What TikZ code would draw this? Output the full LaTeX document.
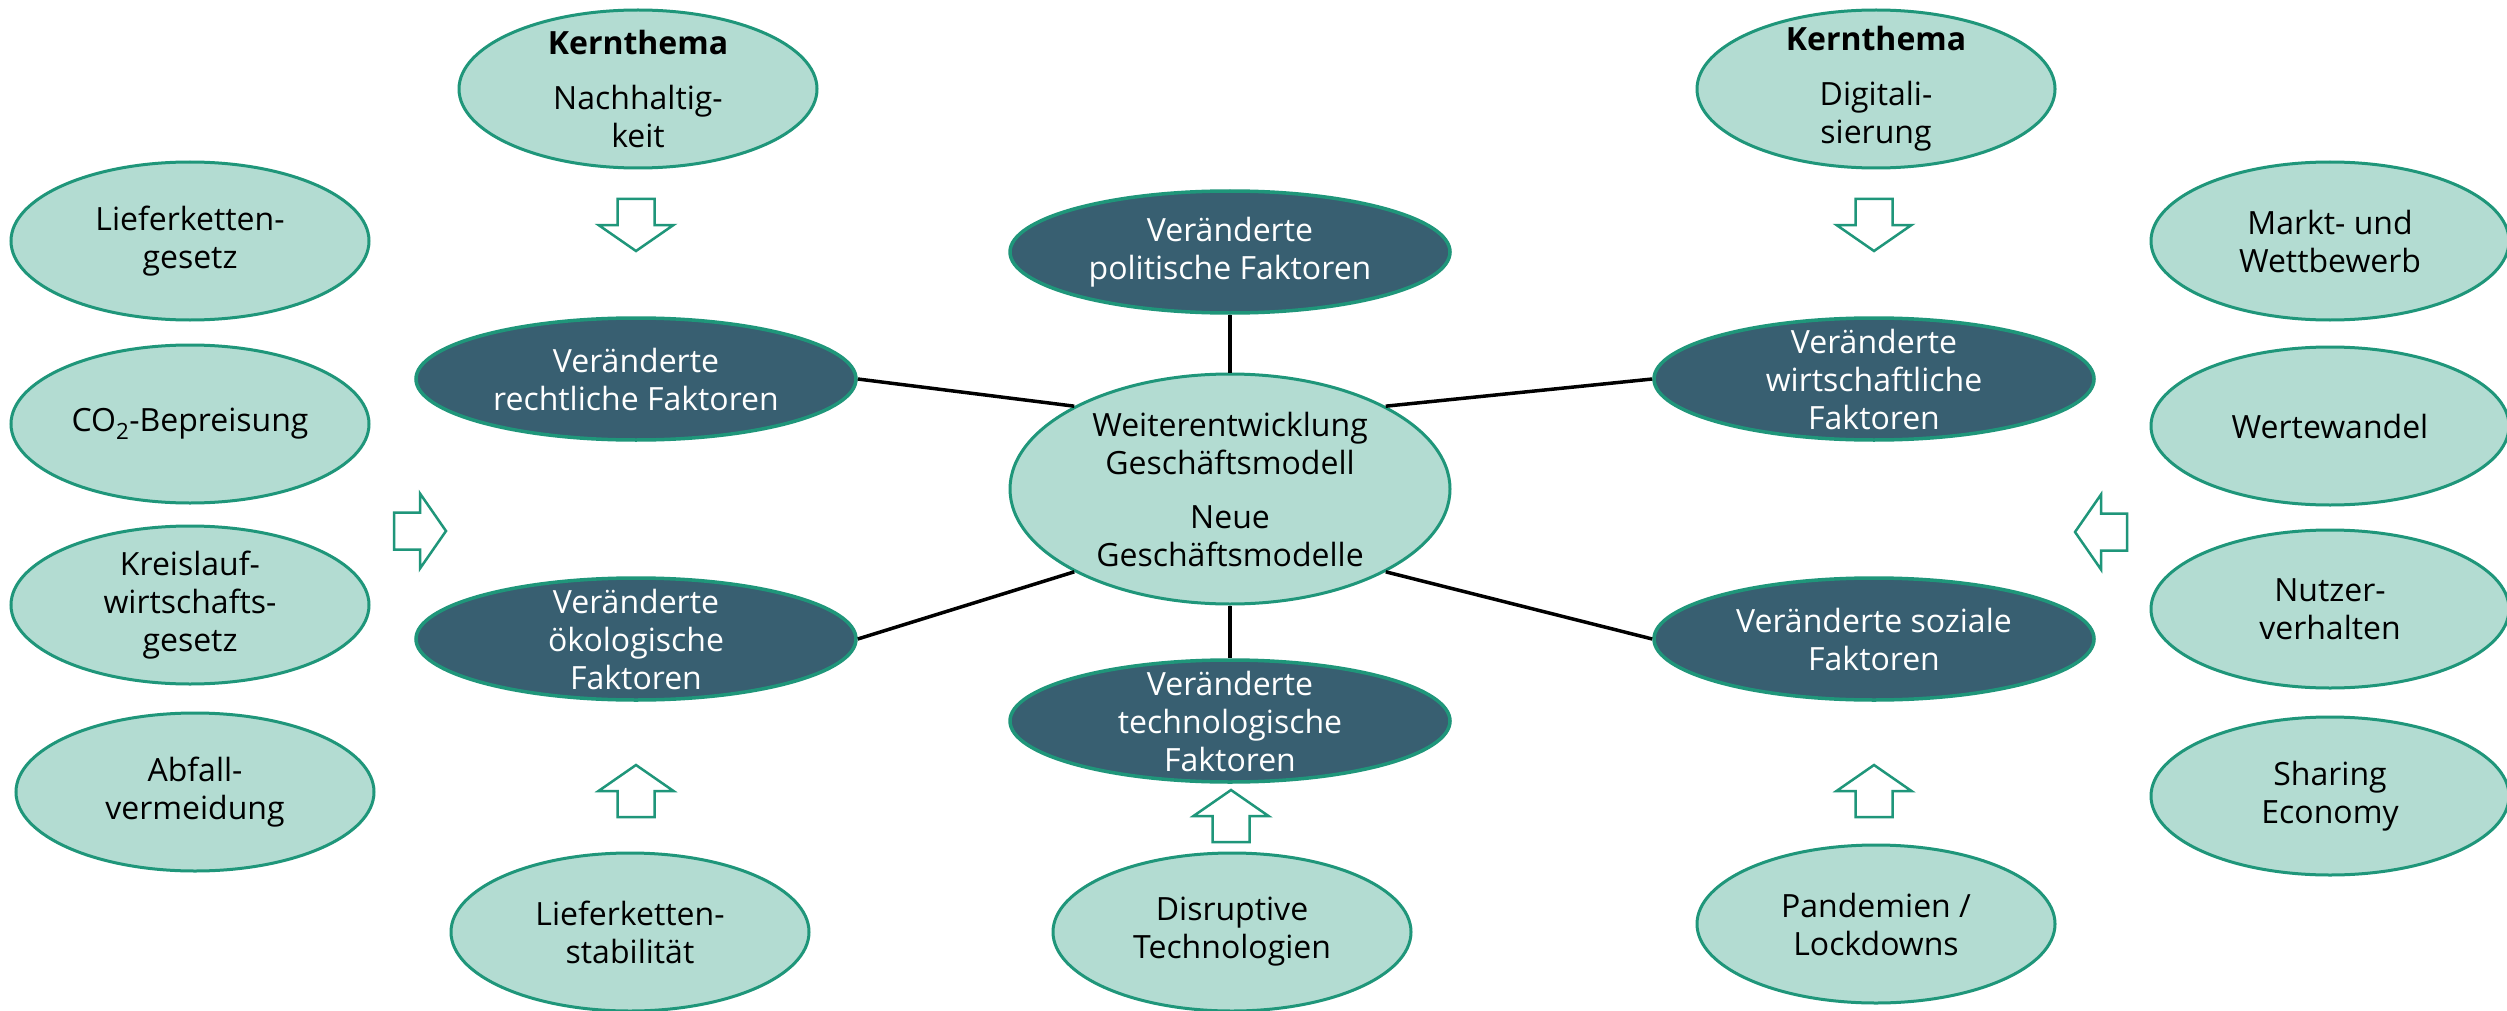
\documentclass[tikz,border=0pt]{standalone}
\usepackage{fontspec}
\setmainfont{Open Sans}
\usetikzlibrary{shapes.geometric}
\definecolor{mint}{HTML}{B3DCD2}
\definecolor{edgegreen}{HTML}{1F967A}
\definecolor{slate}{HTML}{385F71}
\tikzset{
  lightell/.style={ellipse, draw=edgegreen, fill=mint, line width=3pt, inner sep=0pt,
    minimum width=358pt, minimum height=158pt},
  darkell/.style={ellipse, draw=edgegreen, fill=slate, line width=3.5pt, inner sep=0pt,
    minimum width=440pt, minimum height=122pt},
  centerell/.style={ellipse, draw=edgegreen, fill=mint, line width=3pt, inner sep=0pt,
    minimum width=440pt, minimum height=230pt},
  darktext/.style={text=white, align=center, font=\fontsize{32}{38}\selectfont, inner sep=0pt},
  lighttext/.style={text=black, align=center, font=\fontsize{32}{38}\selectfont, inner sep=0pt},
  conn/.style={draw=black, line width=3.5pt},
  arrowline/.style={draw=edgegreen, fill=white, line width=2.5pt, line join=miter},
  blockarr/.pic={\path[arrowline] (-26,-18.5) -- (0,-18.5) -- (0,-37.5) -- (26,0) -- (0,37.5) -- (0,18.5) -- (-26,18.5) -- cycle;}
}
\begin{document}
\begin{tikzpicture}[x=1pt,y=-1pt]
\fill[white] (0,0) rectangle (2507,1011);
\useasboundingbox (0,0) rectangle (2507,1011);

% Kernthemen
\node[lightell, label={[lighttext]center:{\textbf{Kernthema}\\[17pt]Nachhaltig-\\keit}}] (kn) at (638,89) {};
\node[lightell, label={[lighttext]center:{\textbf{Kernthema}\\[17pt]Digitali-\\sierung}}] (kd) at (1876,89) {};

% left column
\node[lightell, label={[lighttext]center:{Lieferketten-\\gesetz}}] (lg) at (190,241) {};
\node[lightell, label={[lighttext]center:{CO\textsubscript{2}-Bepreisung}}] (co2) at (190,424) {};
\node[lightell, label={[lighttext]center:{Kreislauf-\\wirtschafts-\\gesetz}}] (kreis) at (190,605) {};
\node[lightell, label={[lighttext]center:{Abfall-\\vermeidung}}] (abfall) at (195,792) {};

% right column
\node[lightell, label={[lighttext]center:{Markt- und\\Wettbewerb}}] (markt) at (2330,241) {};
\node[lightell, label={[lighttext]center:{Wertewandel}}] (werte) at (2330,426) {};
\node[lightell, label={[lighttext]center:{Nutzer-\\verhalten}}] (nutzer) at (2330,609) {};
\node[lightell, label={[lighttext]center:{Sharing\\Economy}}] (sharing) at (2330,796) {};

% bottom row
\node[lightell, label={[lighttext]center:{Lieferketten-\\stabilität}}] (lstab) at (630,932) {};
\node[lightell, label={[lighttext]center:{Disruptive\\Technologien}}] (disr) at (1232,932) {};
\node[lightell, label={[lighttext]center:{Pandemien /\\Lockdowns}}] (pand) at (1876,924) {};

% factor nodes
\node[darkell, label={[darktext]center:{Veränderte\\rechtliche Faktoren}}] (recht) at (636,379) {};
\node[darkell, label={[darktext]center:{Veränderte\\ökologische\\Faktoren}}] (oeko) at (636,639) {};
\node[darkell, label={[darktext]center:{Veränderte\\politische Faktoren}}] (pol) at (1230,252) {};
\node[darkell, label={[darktext]center:{Veränderte\\technologische\\Faktoren}}] (tech) at (1230,721) {};
\node[darkell, label={[darktext]center:{Veränderte\\wirtschaftliche\\Faktoren}}] (wirt) at (1874,379) {};
\node[darkell, label={[darktext]center:{Veränderte soziale\\Faktoren}}] (soz) at (1874,639) {};

% center
\node[centerell, label={[lighttext]center:{Weiterentwicklung\\Geschäftsmodell\\[16pt]Neue\\Geschäftsmodelle}}] (mid) at (1230,489) {};

% connectors
\draw[conn] (recht.east) -- (mid.152);
\draw[conn] (oeko.east) -- (mid.208);
\draw[conn] (wirt.west) -- (mid.28);
\draw[conn] (soz.west) -- (mid.332);
\draw[conn] (pol.south) -- (mid.north);
\draw[conn] (mid.south) -- (tech.north);

% block arrows
\pic[rotate=-90] (arrN) at (636,225) {blockarr};
\pic[rotate=-90] (arrD) at (1874,225) {blockarr};
\pic (arrL) at (420,531) {blockarr};
\pic[rotate=180] (arrR) at (2101,532) {blockarr};
\pic[rotate=90] (arrS) at (636,791) {blockarr};
\pic[rotate=90] (arrT) at (1231,816) {blockarr};
\pic[rotate=90] (arrP) at (1874,791) {blockarr};
\end{tikzpicture}
\end{document}
